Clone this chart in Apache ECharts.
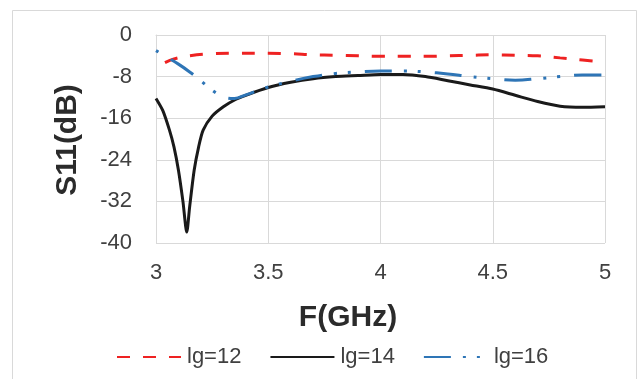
<!DOCTYPE html>
<html>
<head>
<meta charset="utf-8">
<title>S11 vs frequency</title>
<script src="https://cdn.jsdelivr.net/npm/echarts@6/dist/echarts.min.js"></script>
<style>
  html, body { margin: 0; padding: 0; background: #ffffff; }
  #chart { width: 637px; height: 379px; }
</style>
</head>
<body>
<div id="chart"></div>
<script>
// Return loss S11 (dB) against frequency (GHz) for three lg values.
const seriesNames = ['lg=12', 'lg=14', 'lg=16'];

const freqLg12 = [3.04, 3.08, 3.15, 3.25, 3.35, 3.5, 3.6, 3.7, 3.8, 3.9, 4.0, 4.1, 4.2, 4.3, 4.4, 4.5, 4.6, 4.7, 4.8, 4.9, 5.0];
const s11Lg12  = [-5.3, -4.6, -4.0, -3.6, -3.5, -3.5, -3.6, -3.8, -3.9, -4.0, -4.1, -4.1, -4.1, -4.0, -3.9, -3.8, -3.9, -4.0, -4.4, -4.8, -5.2];

const freqLg14 = [3.0, 3.03, 3.06, 3.08, 3.1, 3.12, 3.137, 3.15, 3.17, 3.19, 3.21, 3.25, 3.3, 3.35, 3.4, 3.5, 3.6, 3.7, 3.8, 3.9, 4.0, 4.1, 4.2, 4.3, 4.4, 4.5, 4.6, 4.7, 4.8, 4.9, 5.0];
const s11Lg14  = [-12.2, -14.5, -18.3, -21.5, -26.0, -32.0, -37.9, -33.0, -26.0, -21.5, -18.3, -15.6, -13.8, -12.5, -11.6, -10.1, -9.1, -8.4, -8.0, -7.8, -7.6, -7.6, -8.0, -8.8, -9.6, -10.4, -11.6, -12.8, -13.7, -13.9, -13.8];

const freqLg16 = [3.0, 3.05, 3.1, 3.15, 3.2, 3.25, 3.3, 3.35, 3.4, 3.5, 3.6, 3.7, 3.8, 3.9, 4.0, 4.1, 4.2, 4.3, 4.4, 4.5, 4.6, 4.7, 4.8, 4.9, 5.0];
const s11Lg16  = [-3.0, -4.3, -5.6, -7.1, -8.8, -10.6, -11.9, -12.2, -11.5, -10.0, -8.9, -8.0, -7.4, -7.1, -6.9, -6.9, -7.1, -7.5, -8.0, -8.4, -8.7, -8.4, -8.0, -7.7, -7.7];

const xTicks = { min: 3, max: 5, step: 0.5 };
const yTicks = { min: -40, max: 0, step: 8 };

const pair = (xs, ys) => xs.map((x, i) => [x, ys[i]]);

const labelColor = '#404040';
const titleColor = '#2b2b2b';
const gridColor = '#d9d9d9';
const font = '"Liberation Sans", Arial, sans-serif';
const dashDotDot = [27, 12, 3, 11, 3, 14];

const chart = echarts.init(document.getElementById('chart'), null, { renderer: 'canvas' });

chart.setOption({
  animation: false,
  backgroundColor: '#ffffff',
  grid: { left: 156, right: 32, top: 35, bottom: 136, containLabel: false },
  xAxis: {
    type: 'value',
    min: xTicks.min,
    max: xTicks.max,
    interval: xTicks.step,
    axisLine: { show: true, lineStyle: { color: gridColor, width: 1 } },
    axisTick: { show: false },
    splitLine: { show: true, lineStyle: { color: gridColor, width: 1 } },
    axisLabel: { color: labelColor, fontSize: 22, fontFamily: font, margin: 19 }
  },
  yAxis: {
    type: 'value',
    min: yTicks.min,
    max: yTicks.max,
    interval: yTicks.step,
    axisLine: { show: true, lineStyle: { color: gridColor, width: 1 } },
    axisTick: { show: false },
    splitLine: { show: true, lineStyle: { color: gridColor, width: 1 } },
    axisLabel: { color: labelColor, fontSize: 22, fontFamily: font, margin: 24 }
  },
  legend: {
    left: 111,
    top: 341,
    itemWidth: 64,
    itemHeight: 14,
    itemGap: 28,
    itemStyle: { opacity: 0 },
    textStyle: { color: labelColor, fontSize: 22, fontFamily: font, padding: [0, 0, 0, 1] },
    data: [
      seriesNames[0],
      seriesNames[1],
      { name: seriesNames[2], lineStyle: { type: dashDotDot, dashOffset: 0 } }
    ]
  },
  graphic: [
    {
      type: 'rect',
      shape: { x: 12.5, y: 10.5, width: 624, height: 380 },
      style: { fill: 'none', stroke: gridColor, lineWidth: 1 },
      silent: true
    },
    {
      type: 'text',
      x: 348, y: 318,
      style: {
        text: 'F(GHz)', fill: titleColor,
        font: 'bold 30px ' + font,
        align: 'center', verticalAlign: 'middle'
      }
    },
    {
      type: 'text',
      x: 68, y: 140,
      rotation: Math.PI / 2,
      style: {
        text: 'S11(dB)', fill: titleColor,
        font: 'bold 30px ' + font,
        align: 'center', verticalAlign: 'middle'
      }
    }
  ],
  series: [
    {
      name: seriesNames[0],
      type: 'line',
      data: pair(freqLg12, s11Lg12),
      smooth: 0.4,
      symbol: 'none',
      lineStyle: { color: '#ee2222', width: 3, type: [13, 13] },
      itemStyle: { color: '#ee2222' }
    },
    {
      name: seriesNames[1],
      type: 'line',
      data: pair(freqLg14, s11Lg14),
      smooth: 0.25,
      symbol: 'none',
      lineStyle: { color: '#1a1a1a', width: 3, join: 'round' },
      itemStyle: { color: '#1a1a1a' }
    },
    {
      name: seriesNames[2],
      type: 'line',
      data: pair(freqLg16, s11Lg16),
      smooth: 0.4,
      symbol: 'none',
      lineStyle: { color: '#2e75b6', width: 3, type: dashDotDot, dashOffset: 53 },
      itemStyle: { color: '#2e75b6' }
    }
  ]
});
</script>
</body>
</html>
